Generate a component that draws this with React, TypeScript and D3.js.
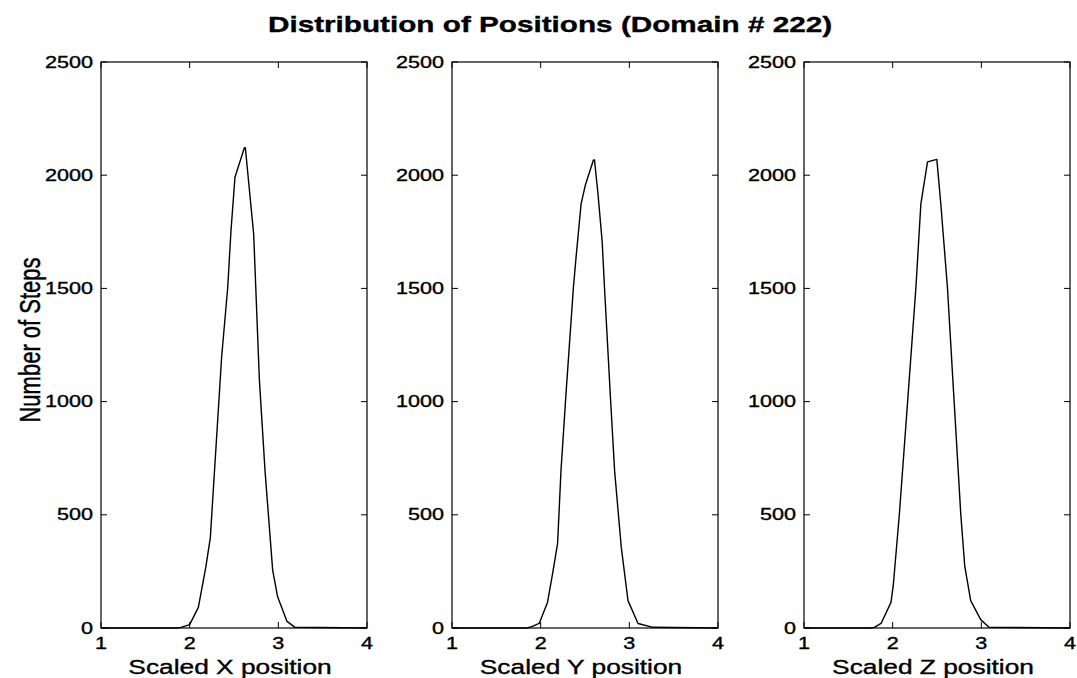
import React from "react";
import * as d3 from "d3";

// Histogram outlines of scaled positions, one array pair per coordinate
const posX = [1.0, 1.85, 1.902, 2.0, 2.098, 2.184, 2.233, 2.361, 2.429, 2.466, 2.511, 2.617, 2.628, 2.722, 2.786, 2.85, 2.936, 2.992, 3.098, 3.188, 4.0];
const stepsX = [0, 0, 3, 15, 91, 273, 399, 1199, 1503, 1755, 1991, 2121, 2121, 1739, 1098, 694, 256, 138, 29, 3, 0];

const posY = [1.0, 1.85, 1.907, 1.983, 2.077, 2.134, 2.191, 2.229, 2.285, 2.369, 2.399, 2.456, 2.505, 2.595, 2.607, 2.645, 2.694, 2.72, 2.785, 2.834, 2.909, 2.985, 3.098, 3.268, 4.0];
const stepsY = [0, 0, 7, 20, 113, 239, 374, 694, 1031, 1503, 1637, 1873, 1958, 2067, 2067, 1924, 1705, 1503, 1031, 694, 357, 121, 20, 3, 0];

const posZ = [1.0, 1.75, 1.794, 1.869, 1.981, 2.007, 2.075, 2.169, 2.262, 2.318, 2.393, 2.498, 2.543, 2.618, 2.693, 2.768, 2.813, 2.88, 2.993, 3.086, 4.0];
const stepsZ = [0, 0, 3, 20, 113, 189, 500, 1002, 1503, 1873, 2059, 2070, 1873, 1503, 1002, 504, 273, 121, 37, 3, 0];

const xTicks = [1, 2, 3, 4];
const yTicks = [0, 500, 1000, 1500, 2000, 2500];
const axisLabels = ["Scaled X position", "Scaled Y position", "Scaled Z position"];
const titleText = "Distribution of Positions (Domain # 222)";
const yLabelText = "Number of Steps";

const panels = [
  { xs: posX, ys: stepsX, label: axisLabels[0] },
  { xs: posY, ys: stepsY, label: axisLabels[1] },
  { xs: posZ, ys: stepsZ, label: axisLabels[2] },
];

const W = 1077;
const H = 678;
const panelLefts = [101, 452, 804];
const panelW = 266;
const top = 62;
const bottom = 628;
const tickLen = 6;
const SX = 1.35; // horizontal text stretch
const FONT = "'Liberation Sans', Arial, Helvetica, sans-serif";
const INK = { fill: "#000", stroke: "#000", strokeWidth: 0.35 };

export default function App() {
  const y = d3.scaleLinear().domain([0, 2500]).range([bottom, top]);

  return (
    <svg
      width={W}
      height={H}
      style={{ position: "absolute", left: 0, top: 0, background: "#fff" }}
      fontFamily={FONT}
    >
      <rect x={0} y={0} width={W} height={H} fill="#fff" />
      <text
        transform={`translate(550,32) scale(${SX},1)`}
        textAnchor="middle"
        fontSize={22}
        fontWeight="bold"
        {...INK}
      >
        {titleText}
      </text>
      <text
        transform={`translate(40,340) scale(${SX},1) rotate(-90)`}
        textAnchor="middle"
        fontSize={22}
        {...INK}
      >
        {yLabelText}
      </text>
      {panels.map((p, i) => {
        const left = panelLefts[i];
        const x = d3.scaleLinear().domain([1, 4]).range([left, left + panelW]);
        const line = d3
          .line<number>()
          .x((_, k) => x(p.xs[k]))
          .y((v) => y(v));
        return (
          <g key={i}>
            <path d={line(p.ys) || ""} fill="none" stroke="#000" strokeWidth={1.4} strokeLinejoin="round" />
            <rect x={left} y={top} width={panelW} height={bottom - top} fill="none" stroke="#000" strokeWidth={1.2} />
            {xTicks.map((t) => (
              <g key={"x" + t}>
                <line x1={x(t)} x2={x(t)} y1={bottom} y2={bottom - tickLen} stroke="#000" />
                <line x1={x(t)} x2={x(t)} y1={top} y2={top + tickLen} stroke="#000" />
                <text
                  transform={`translate(${x(t)},${bottom + 21}) scale(${SX},1)`}
                  textAnchor="middle"
                  fontSize={16}
                  {...INK}
                >
                  {t}
                </text>
              </g>
            ))}
            {yTicks.map((t) => (
              <g key={"y" + t}>
                <line x1={left} x2={left + tickLen} y1={y(t)} y2={y(t)} stroke="#000" />
                <line x1={left + panelW} x2={left + panelW - tickLen} y1={y(t)} y2={y(t)} stroke="#000" />
                <text
                  transform={`translate(${left - 8},${y(t) + 5.5}) scale(${SX},1)`}
                  textAnchor="end"
                  fontSize={16}
                  {...INK}
                >
                  {t}
                </text>
              </g>
            ))}
            <text
              transform={`translate(${left + panelW / 2 - 4},674) scale(${SX},1)`}
              textAnchor="middle"
              fontSize={19.5}
              {...INK}
            >
              {p.label}
            </text>
          </g>
        );
      })}
    </svg>
  );
}
